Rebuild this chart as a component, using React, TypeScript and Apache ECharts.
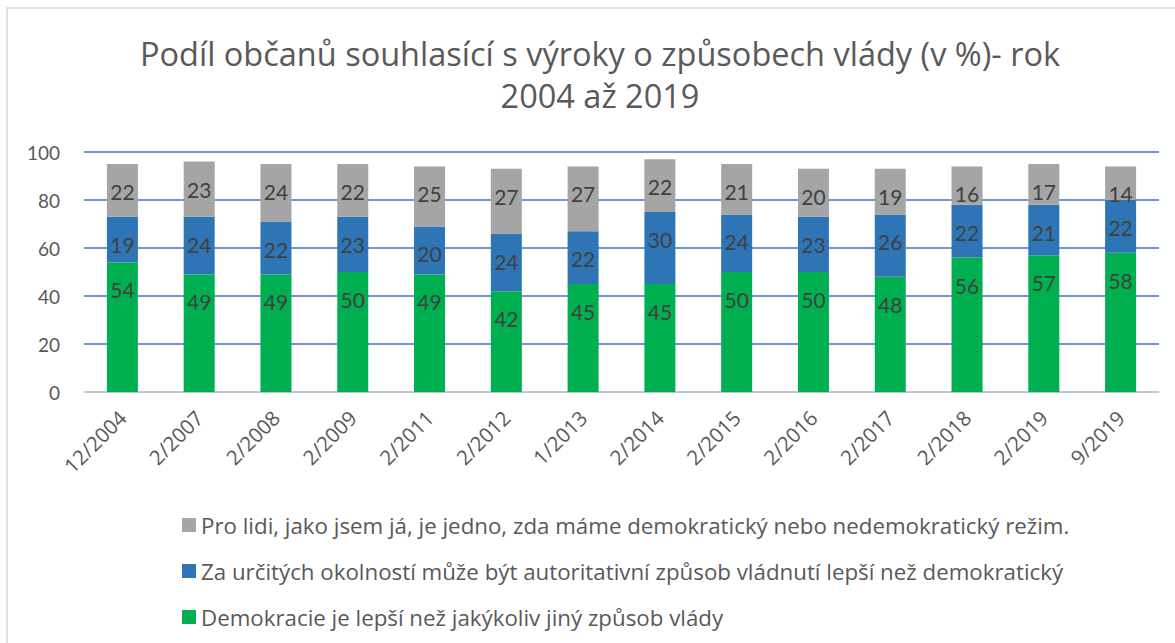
import React, { useEffect, useRef } from "react";
import * as echarts from "echarts";

const categories = ["12/2004", "2/2007", "2/2008", "2/2009", "2/2011", "2/2012", "1/2013", "2/2014", "2/2015", "2/2016", "2/2017", "2/2018", "2/2019", "9/2019"];
const democracy = [54, 49, 49, 50, 49, 42, 45, 45, 50, 50, 48, 56, 57, 58];
const authoritarian = [19, 24, 22, 23, 20, 24, 22, 30, 24, 23, 26, 22, 21, 22];
const indifferent = [22, 23, 24, 22, 25, 27, 27, 22, 21, 20, 19, 16, 17, 14];
const yTicks = [0, 20, 40, 60, 80, 100];

const nameGreen = "Demokracie je lepší než jakýkoliv jiný způsob vlády";
const nameBlue = "Za určitých okolností může být autoritativní způsob vládnutí lepší než demokratický";
const nameGray = "Pro lidi, jako jsem já, je jedno, zda máme demokratický nebo nedemokratický režim.";

const FONT = "Lato";
const FONT2 = "Open Sans";

export default function App() {
  const ref = useRef<HTMLDivElement>(null);
  useEffect(() => {
    if (!ref.current) return;
    const chart = echarts.init(ref.current, null, { renderer: "svg" });
    const label = {
      show: true,
      position: "insideTop",
      distance: 17,
      color: "#404040",
      fontSize: 21,
      fontFamily: FONT,
    };
    chart.setOption({
      animation: false,
      textStyle: { fontFamily: FONT },
      graphic: [
        {
          type: "rect",
          shape: { x: 7, y: 8, width: 1250, height: 700 },
          style: { fill: "none", stroke: "#d9d9d9", lineWidth: 1.5 },
          silent: true,
        },
      ],
      title: {
        text: "Podíl občanů souhlasící s výroky o způsobech vlády (v %)- rok\n2004 až 2019",
        left: 595,
        textAlign: "center",
        top: 27,
        textStyle: {
          fontFamily: FONT2,
          fontSize: 32.5,
          fontWeight: "normal",
          color: "#595959",
          lineHeight: 42,
        },
      },
      legend: {
        orient: "vertical",
        left: 177,
        top: 509,
        itemWidth: 14,
        itemHeight: 14,
        itemGap: 24,
        icon: "rect",
        data: [nameGray, nameBlue, nameGreen],
        textStyle: { fontFamily: FONT2, fontSize: 22.3, color: "#595959", lineHeight: 22 },
      },
      grid: { left: 84, right: 16, top: 152, bottom: 251, containLabel: false },
      xAxis: {
        type: "category",
        data: categories,
        axisLine: { lineStyle: { color: "#d9d9d9", width: 1.5 } },
        axisTick: { show: false },
        axisLabel: {
          rotate: 45,
          interval: 0,
          margin: 22,
          fontSize: 20.5,
          color: "#595959",
          fontFamily: FONT2,
        },
      },
      yAxis: {
        type: "value",
        min: yTicks[0],
        max: yTicks[yTicks.length - 1],
        interval: 20,
        axisLine: { show: false },
        axisTick: { show: false },
        axisLabel: { fontSize: 19, color: "#595959", margin: 24, fontFamily: FONT },
        splitLine: { lineStyle: { color: "#4472C4", width: 1.5 } },
      },
      series: [
        {
          name: nameGreen,
          type: "bar",
          stack: "s",
          data: democracy,
          barWidth: 31,
          itemStyle: { color: "#00B050" },
          label,
          z: 3,
        },
        {
          name: nameBlue,
          type: "bar",
          stack: "s",
          data: authoritarian,
          barWidth: 31,
          itemStyle: { color: "#2E75B6" },
          label,
          z: 3,
        },
        {
          name: nameGray,
          type: "bar",
          stack: "s",
          data: indifferent,
          barWidth: 31,
          itemStyle: { color: "#A5A5A5" },
          label,
          z: 3,
        },
      ],
    });
    return () => chart.dispose();
  }, []);
  return (
    <div
      ref={ref}
      style={{ position: "fixed", left: 0, top: 0, width: 1175, height: 643, background: "#fff" }}
    />
  );
}
